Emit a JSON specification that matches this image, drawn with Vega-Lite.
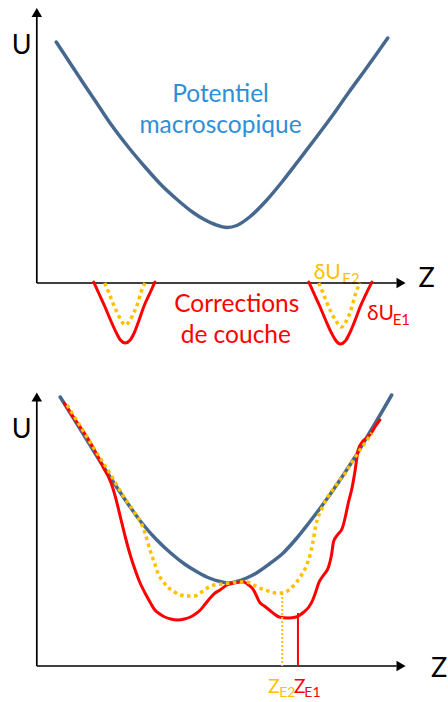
{
  "$schema": "https://vega.github.io/schema/vega-lite/v6.json",
  "width": 448,
  "height": 702,
  "autosize": {"type": "fit", "contains": "padding"},
  "padding": 0,
  "background": "white",
  "view": {"stroke": null},
  "datasets": {
    "axes": [
      {"panel": "top", "x": 37.3, "y": 283, "x2": 37.3, "y2": 15},
      {"panel": "top", "x": 37.3, "y": 283, "x2": 402, "y2": 283},
      {"panel": "bottom", "x": 37.3, "y": 666, "x2": 37.3, "y2": 400},
      {"panel": "bottom", "x": 37.3, "y": 666, "x2": 402, "y2": 666}
    ],
    "arrows": [
      {"dir": "up", "x": 37.3, "y": 12.5},
      {"dir": "right", "x": 406.5, "y": 283},
      {"dir": "up", "x": 37.3, "y": 397},
      {"dir": "right", "x": 406.5, "y": 666}
    ],
    "curves": [
      {"c": "t_macro", "k": "macro", "x": 57, "y": 42},
      {"c": "t_macro", "k": "macro", "x": 70, "y": 61.5},
      {"c": "t_macro", "k": "macro", "x": 85, "y": 84},
      {"c": "t_macro", "k": "macro", "x": 100, "y": 106},
      {"c": "t_macro", "k": "macro", "x": 113, "y": 125},
      {"c": "t_macro", "k": "macro", "x": 130, "y": 147},
      {"c": "t_macro", "k": "macro", "x": 147, "y": 167},
      {"c": "t_macro", "k": "macro", "x": 163, "y": 184.5},
      {"c": "t_macro", "k": "macro", "x": 180, "y": 200},
      {"c": "t_macro", "k": "macro", "x": 195, "y": 212},
      {"c": "t_macro", "k": "macro", "x": 207, "y": 219.5},
      {"c": "t_macro", "k": "macro", "x": 218, "y": 224.5},
      {"c": "t_macro", "k": "macro", "x": 230, "y": 227.5},
      {"c": "t_macro", "k": "macro", "x": 240, "y": 225.5},
      {"c": "t_macro", "k": "macro", "x": 253, "y": 217},
      {"c": "t_macro", "k": "macro", "x": 270, "y": 200.5},
      {"c": "t_macro", "k": "macro", "x": 287, "y": 180.5},
      {"c": "t_macro", "k": "macro", "x": 303, "y": 160},
      {"c": "t_macro", "k": "macro", "x": 320, "y": 138},
      {"c": "t_macro", "k": "macro", "x": 337, "y": 115.5},
      {"c": "t_macro", "k": "macro", "x": 353, "y": 93},
      {"c": "t_macro", "k": "macro", "x": 370, "y": 70},
      {"c": "t_macro", "k": "macro", "x": 382, "y": 53.5},
      {"c": "t_macro", "k": "macro", "x": 393, "y": 38},

      {"c": "t_E1_L", "k": "E1", "x": 95, "y": 282},
      {"c": "t_E1_L", "k": "E1", "x": 100, "y": 293},
      {"c": "t_E1_L", "k": "E1", "x": 106, "y": 306},
      {"c": "t_E1_L", "k": "E1", "x": 112, "y": 320},
      {"c": "t_E1_L", "k": "E1", "x": 118, "y": 333},
      {"c": "t_E1_L", "k": "E1", "x": 122, "y": 340},
      {"c": "t_E1_L", "k": "E1", "x": 127, "y": 343},
      {"c": "t_E1_L", "k": "E1", "x": 132, "y": 340},
      {"c": "t_E1_L", "k": "E1", "x": 136, "y": 333},
      {"c": "t_E1_L", "k": "E1", "x": 141, "y": 320},
      {"c": "t_E1_L", "k": "E1", "x": 146, "y": 306},
      {"c": "t_E1_L", "k": "E1", "x": 152, "y": 293},
      {"c": "t_E1_L", "k": "E1", "x": 157, "y": 282},

      {"c": "t_E1_R", "k": "E1", "x": 313, "y": 282},
      {"c": "t_E1_R", "k": "E1", "x": 318, "y": 293},
      {"c": "t_E1_R", "k": "E1", "x": 324, "y": 306},
      {"c": "t_E1_R", "k": "E1", "x": 330, "y": 320},
      {"c": "t_E1_R", "k": "E1", "x": 336, "y": 333},
      {"c": "t_E1_R", "k": "E1", "x": 340, "y": 340},
      {"c": "t_E1_R", "k": "E1", "x": 345, "y": 344},
      {"c": "t_E1_R", "k": "E1", "x": 350, "y": 341},
      {"c": "t_E1_R", "k": "E1", "x": 354, "y": 334},
      {"c": "t_E1_R", "k": "E1", "x": 360, "y": 320},
      {"c": "t_E1_R", "k": "E1", "x": 365, "y": 307},
      {"c": "t_E1_R", "k": "E1", "x": 371, "y": 294},
      {"c": "t_E1_R", "k": "E1", "x": 377, "y": 282},

      {"c": "t_E2_L", "k": "E2", "x": 106, "y": 283},
      {"c": "t_E2_L", "k": "E2", "x": 110, "y": 292},
      {"c": "t_E2_L", "k": "E2", "x": 114, "y": 302},
      {"c": "t_E2_L", "k": "E2", "x": 118, "y": 311},
      {"c": "t_E2_L", "k": "E2", "x": 122, "y": 319},
      {"c": "t_E2_L", "k": "E2", "x": 127, "y": 325},
      {"c": "t_E2_L", "k": "E2", "x": 132, "y": 320},
      {"c": "t_E2_L", "k": "E2", "x": 136, "y": 312},
      {"c": "t_E2_L", "k": "E2", "x": 140, "y": 302},
      {"c": "t_E2_L", "k": "E2", "x": 143, "y": 292},
      {"c": "t_E2_L", "k": "E2", "x": 147, "y": 283},

      {"c": "t_E2_R", "k": "E2", "x": 323, "y": 283},
      {"c": "t_E2_R", "k": "E2", "x": 327, "y": 292},
      {"c": "t_E2_R", "k": "E2", "x": 331, "y": 302},
      {"c": "t_E2_R", "k": "E2", "x": 335, "y": 311},
      {"c": "t_E2_R", "k": "E2", "x": 340, "y": 320},
      {"c": "t_E2_R", "k": "E2", "x": 346, "y": 327},
      {"c": "t_E2_R", "k": "E2", "x": 351, "y": 321},
      {"c": "t_E2_R", "k": "E2", "x": 355, "y": 312},
      {"c": "t_E2_R", "k": "E2", "x": 358, "y": 302},
      {"c": "t_E2_R", "k": "E2", "x": 361, "y": 292},
      {"c": "t_E2_R", "k": "E2", "x": 365, "y": 283},

      {"c": "b_macro", "k": "macro", "x": 61, "y": 397},
      {"c": "b_macro", "k": "macro", "x": 75, "y": 419},
      {"c": "b_macro", "k": "macro", "x": 90, "y": 443},
      {"c": "b_macro", "k": "macro", "x": 107, "y": 470},
      {"c": "b_macro", "k": "macro", "x": 125, "y": 497},
      {"c": "b_macro", "k": "macro", "x": 143, "y": 522},
      {"c": "b_macro", "k": "macro", "x": 158, "y": 539},
      {"c": "b_macro", "k": "macro", "x": 173, "y": 553},
      {"c": "b_macro", "k": "macro", "x": 187, "y": 564},
      {"c": "b_macro", "k": "macro", "x": 200, "y": 572},
      {"c": "b_macro", "k": "macro", "x": 212, "y": 578},
      {"c": "b_macro", "k": "macro", "x": 223, "y": 581.5},
      {"c": "b_macro", "k": "macro", "x": 232, "y": 583},
      {"c": "b_macro", "k": "macro", "x": 240, "y": 581.5},
      {"c": "b_macro", "k": "macro", "x": 250, "y": 578},
      {"c": "b_macro", "k": "macro", "x": 260, "y": 573},
      {"c": "b_macro", "k": "macro", "x": 273, "y": 564},
      {"c": "b_macro", "k": "macro", "x": 287, "y": 553},
      {"c": "b_macro", "k": "macro", "x": 300, "y": 539},
      {"c": "b_macro", "k": "macro", "x": 313, "y": 523},
      {"c": "b_macro", "k": "macro", "x": 325, "y": 507.5},
      {"c": "b_macro", "k": "macro", "x": 337, "y": 491},
      {"c": "b_macro", "k": "macro", "x": 350, "y": 472},
      {"c": "b_macro", "k": "macro", "x": 363, "y": 452},
      {"c": "b_macro", "k": "macro", "x": 375, "y": 432},
      {"c": "b_macro", "k": "macro", "x": 387, "y": 412},
      {"c": "b_macro", "k": "macro", "x": 397, "y": 395},

      {"c": "b_E1", "k": "E1", "x": 65, "y": 403},
      {"c": "b_E1", "k": "E1", "x": 75, "y": 418},
      {"c": "b_E1", "k": "E1", "x": 90, "y": 440},
      {"c": "b_E1", "k": "E1", "x": 100, "y": 458},
      {"c": "b_E1", "k": "E1", "x": 105, "y": 468},
      {"c": "b_E1", "k": "E1", "x": 110, "y": 477},
      {"c": "b_E1", "k": "E1", "x": 114, "y": 487},
      {"c": "b_E1", "k": "E1", "x": 117, "y": 497},
      {"c": "b_E1", "k": "E1", "x": 122, "y": 517},
      {"c": "b_E1", "k": "E1", "x": 127, "y": 537},
      {"c": "b_E1", "k": "E1", "x": 132, "y": 555},
      {"c": "b_E1", "k": "E1", "x": 137, "y": 570},
      {"c": "b_E1", "k": "E1", "x": 142, "y": 583},
      {"c": "b_E1", "k": "E1", "x": 147, "y": 593},
      {"c": "b_E1", "k": "E1", "x": 152, "y": 602},
      {"c": "b_E1", "k": "E1", "x": 157, "y": 610},
      {"c": "b_E1", "k": "E1", "x": 162, "y": 614},
      {"c": "b_E1", "k": "E1", "x": 167, "y": 617},
      {"c": "b_E1", "k": "E1", "x": 173, "y": 619},
      {"c": "b_E1", "k": "E1", "x": 180, "y": 620},
      {"c": "b_E1", "k": "E1", "x": 187, "y": 619},
      {"c": "b_E1", "k": "E1", "x": 193, "y": 617},
      {"c": "b_E1", "k": "E1", "x": 198, "y": 614},
      {"c": "b_E1", "k": "E1", "x": 203, "y": 610},
      {"c": "b_E1", "k": "E1", "x": 208, "y": 604},
      {"c": "b_E1", "k": "E1", "x": 213, "y": 598},
      {"c": "b_E1", "k": "E1", "x": 218, "y": 593},
      {"c": "b_E1", "k": "E1", "x": 223, "y": 590},
      {"c": "b_E1", "k": "E1", "x": 230, "y": 585},
      {"c": "b_E1", "k": "E1", "x": 237, "y": 583},
      {"c": "b_E1", "k": "E1", "x": 247, "y": 582},
      {"c": "b_E1", "k": "E1", "x": 252, "y": 585},
      {"c": "b_E1", "k": "E1", "x": 257, "y": 590},
      {"c": "b_E1", "k": "E1", "x": 260, "y": 596},
      {"c": "b_E1", "k": "E1", "x": 263, "y": 602},
      {"c": "b_E1", "k": "E1", "x": 268, "y": 606},
      {"c": "b_E1", "k": "E1", "x": 273, "y": 610},
      {"c": "b_E1", "k": "E1", "x": 278, "y": 614},
      {"c": "b_E1", "k": "E1", "x": 283, "y": 617},
      {"c": "b_E1", "k": "E1", "x": 292, "y": 618},
      {"c": "b_E1", "k": "E1", "x": 300, "y": 617},
      {"c": "b_E1", "k": "E1", "x": 308, "y": 612},
      {"c": "b_E1", "k": "E1", "x": 313, "y": 607},
      {"c": "b_E1", "k": "E1", "x": 317, "y": 600},
      {"c": "b_E1", "k": "E1", "x": 320, "y": 592},
      {"c": "b_E1", "k": "E1", "x": 323, "y": 583},
      {"c": "b_E1", "k": "E1", "x": 328, "y": 575},
      {"c": "b_E1", "k": "E1", "x": 333, "y": 567},
      {"c": "b_E1", "k": "E1", "x": 336, "y": 555},
      {"c": "b_E1", "k": "E1", "x": 338, "y": 542},
      {"c": "b_E1", "k": "E1", "x": 342, "y": 535},
      {"c": "b_E1", "k": "E1", "x": 347, "y": 528},
      {"c": "b_E1", "k": "E1", "x": 350, "y": 517},
      {"c": "b_E1", "k": "E1", "x": 353, "y": 503},
      {"c": "b_E1", "k": "E1", "x": 357, "y": 487},
      {"c": "b_E1", "k": "E1", "x": 360, "y": 470},
      {"c": "b_E1", "k": "E1", "x": 363, "y": 450},
      {"c": "b_E1", "k": "E1", "x": 368, "y": 441},
      {"c": "b_E1", "k": "E1", "x": 373, "y": 437},
      {"c": "b_E1", "k": "E1", "x": 377, "y": 432},
      {"c": "b_E1", "k": "E1", "x": 380, "y": 427},
      {"c": "b_E1", "k": "E1", "x": 385, "y": 420},

      {"c": "b_E2", "k": "E2", "x": 68, "y": 405},
      {"c": "b_E2", "k": "E2", "x": 80, "y": 424},
      {"c": "b_E2", "k": "E2", "x": 95, "y": 448},
      {"c": "b_E2", "k": "E2", "x": 110, "y": 471},
      {"c": "b_E2", "k": "E2", "x": 125, "y": 496},
      {"c": "b_E2", "k": "E2", "x": 138, "y": 515},
      {"c": "b_E2", "k": "E2", "x": 143, "y": 523},
      {"c": "b_E2", "k": "E2", "x": 147, "y": 533},
      {"c": "b_E2", "k": "E2", "x": 150, "y": 543},
      {"c": "b_E2", "k": "E2", "x": 153, "y": 553},
      {"c": "b_E2", "k": "E2", "x": 157, "y": 564},
      {"c": "b_E2", "k": "E2", "x": 160, "y": 573},
      {"c": "b_E2", "k": "E2", "x": 165, "y": 581},
      {"c": "b_E2", "k": "E2", "x": 170, "y": 587},
      {"c": "b_E2", "k": "E2", "x": 177, "y": 592},
      {"c": "b_E2", "k": "E2", "x": 183, "y": 595},
      {"c": "b_E2", "k": "E2", "x": 190, "y": 596},
      {"c": "b_E2", "k": "E2", "x": 197, "y": 596},
      {"c": "b_E2", "k": "E2", "x": 203, "y": 593},
      {"c": "b_E2", "k": "E2", "x": 207, "y": 590},
      {"c": "b_E2", "k": "E2", "x": 212, "y": 587},
      {"c": "b_E2", "k": "E2", "x": 217, "y": 585},
      {"c": "b_E2", "k": "E2", "x": 225, "y": 584},
      {"c": "b_E2", "k": "E2", "x": 233, "y": 583},
      {"c": "b_E2", "k": "E2", "x": 242, "y": 582},
      {"c": "b_E2", "k": "E2", "x": 250, "y": 582},
      {"c": "b_E2", "k": "E2", "x": 257, "y": 585},
      {"c": "b_E2", "k": "E2", "x": 263, "y": 588},
      {"c": "b_E2", "k": "E2", "x": 272, "y": 591},
      {"c": "b_E2", "k": "E2", "x": 280, "y": 593},
      {"c": "b_E2", "k": "E2", "x": 287, "y": 593},
      {"c": "b_E2", "k": "E2", "x": 294, "y": 589},
      {"c": "b_E2", "k": "E2", "x": 300, "y": 583},
      {"c": "b_E2", "k": "E2", "x": 305, "y": 576},
      {"c": "b_E2", "k": "E2", "x": 310, "y": 567},
      {"c": "b_E2", "k": "E2", "x": 314, "y": 556},
      {"c": "b_E2", "k": "E2", "x": 317, "y": 543},
      {"c": "b_E2", "k": "E2", "x": 320, "y": 526},
      {"c": "b_E2", "k": "E2", "x": 327, "y": 507},
      {"c": "b_E2", "k": "E2", "x": 337, "y": 490},
      {"c": "b_E2", "k": "E2", "x": 343, "y": 482},
      {"c": "b_E2", "k": "E2", "x": 350, "y": 473},
      {"c": "b_E2", "k": "E2", "x": 355, "y": 465},
      {"c": "b_E2", "k": "E2", "x": 360, "y": 457},
      {"c": "b_E2", "k": "E2", "x": 367, "y": 447},
      {"c": "b_E2", "k": "E2", "x": 372, "y": 440},
      {"c": "b_E2", "k": "E2", "x": 377, "y": 433}
    ],
    "drops": [
      {"k": "E2", "x": 286, "y": 593, "y2": 666},
      {"k": "E1", "x": 302, "y": 613, "y2": 666}
    ],
    "labels": [
      {"g": "axis", "t": "U", "x": 22, "y": 54},
      {"g": "axis", "t": "Z", "x": 432.5, "y": 287},
      {"g": "axis", "t": "U", "x": 22, "y": 438},
      {"g": "axis", "t": "Z", "x": 445, "y": 677},
      {"g": "macro", "t": "Potentiel", "x": 223.5, "y": 102},
      {"g": "macro", "t": "macroscopique", "x": 223.5, "y": 133},
      {"g": "corr", "t": "Corrections", "x": 240, "y": 312},
      {"g": "corr", "t": "de couche", "x": 239, "y": 343},
      {"g": "sym", "k": "E2", "t": "δU", "x": 318, "y": 279},
      {"g": "sub", "k": "E2", "t": "E2", "x": 347, "y": 284},
      {"g": "sym", "k": "E1", "t": "δU", "x": 372, "y": 320},
      {"g": "sub", "k": "E1", "t": "E1", "x": 398, "y": 325},
      {"g": "zsym", "k": "E2", "t": "Z", "x": 272, "y": 693},
      {"g": "zsub", "k": "E2", "t": "E2", "x": 283, "y": 697},
      {"g": "zsym", "k": "E1", "t": "Z", "x": 298, "y": 693},
      {"g": "zsub", "k": "E1", "t": "E1", "x": 308.5, "y": 697}
    ]
  },
  "encoding": {
    "x": {"field": "x", "type": "quantitative", "scale": {"domain": [0, 448], "nice": false, "zero": false}, "axis": null},
    "y": {"field": "y", "type": "quantitative", "scale": {"domain": [0, 702], "reverse": true, "nice": false, "zero": false}, "axis": null}
  },
  "layer": [
    {
      "data": {"name": "labels"},
      "transform": [{"filter": "datum.g == 'axis'"}],
      "mark": {"type": "text", "font": "Lato, Open Sans, sans-serif", "fontSize": 27, "color": "#000000", "align": "center", "baseline": "alphabetic"},
      "encoding": {"text": {"field": "t"}}
    },
    {
      "data": {"name": "labels"},
      "transform": [{"filter": "datum.g == 'macro'"}],
      "mark": {"type": "text", "font": "Lato, Open Sans, sans-serif", "fontSize": 24.5, "color": "#2e8fd6", "align": "center", "baseline": "alphabetic"},
      "encoding": {"text": {"field": "t"}}
    },
    {
      "data": {"name": "labels"},
      "transform": [{"filter": "datum.g == 'corr'"}],
      "mark": {"type": "text", "font": "Lato, Open Sans, sans-serif", "fontSize": 24.5, "color": "#ff0000", "align": "center", "baseline": "alphabetic"},
      "encoding": {"text": {"field": "t"}}
    },
    {
      "data": {"name": "labels"},
      "transform": [{"filter": "datum.g == 'sym'"}],
      "mark": {"type": "text", "font": "Lato, Open Sans, sans-serif", "fontSize": 21, "align": "left", "baseline": "alphabetic"},
      "encoding": {
        "text": {"field": "t"},
        "color": {"field": "k", "type": "nominal", "scale": {"domain": ["E1", "E2"], "range": ["#ff0000", "#ffc000"]}, "legend": null}
      }
    },
    {
      "data": {"name": "labels"},
      "transform": [{"filter": "datum.g == 'sub'"}],
      "mark": {"type": "text", "font": "Lato, Open Sans, sans-serif", "fontSize": 15, "align": "left", "baseline": "alphabetic"},
      "encoding": {
        "text": {"field": "t"},
        "color": {"field": "k", "type": "nominal", "scale": {"domain": ["E1", "E2"], "range": ["#ff0000", "#ffc000"]}, "legend": null}
      }
    },
    {
      "data": {"name": "labels"},
      "transform": [{"filter": "datum.g == 'zsym'"}],
      "mark": {"type": "text", "font": "Lato, Open Sans, sans-serif", "fontSize": 19, "align": "left", "baseline": "alphabetic"},
      "encoding": {
        "text": {"field": "t"},
        "color": {"field": "k", "type": "nominal", "scale": {"domain": ["E1", "E2"], "range": ["#ff0000", "#ffc000"]}, "legend": null}
      }
    },
    {
      "data": {"name": "labels"},
      "transform": [{"filter": "datum.g == 'zsub'"}],
      "mark": {"type": "text", "font": "Lato, Open Sans, sans-serif", "fontSize": 14, "align": "left", "baseline": "alphabetic"},
      "encoding": {
        "text": {"field": "t"},
        "color": {"field": "k", "type": "nominal", "scale": {"domain": ["E1", "E2"], "range": ["#ff0000", "#ffc000"]}, "legend": null}
      }
    },
    {
      "data": {"name": "axes"},
      "mark": {"type": "rule", "color": "#000000", "strokeWidth": 1.7},
      "encoding": {"x2": {"field": "x2"}, "y2": {"field": "y2"}}
    },
    {
      "data": {"name": "arrows"},
      "transform": [{"filter": "datum.dir == 'up'"}],
      "mark": {"type": "point", "shape": "triangle-up", "filled": true, "color": "#000000", "opacity": 1, "size": 110},
      "encoding": {}
    },
    {
      "data": {"name": "arrows"},
      "transform": [{"filter": "datum.dir == 'right'"}],
      "mark": {"type": "point", "shape": "triangle-right", "filled": true, "color": "#000000", "opacity": 1, "size": 110},
      "encoding": {}
    },
    {
      "data": {"name": "curves"},
      "transform": [{"filter": "datum.k == 'macro'"}],
      "mark": {"type": "line", "color": "#46688f", "strokeWidth": 3.5, "interpolate": "monotone", "strokeCap": "round"},
      "encoding": {"detail": {"field": "c"}}
    },
    {
      "data": {"name": "curves"},
      "transform": [{"filter": "datum.k == 'E1'"}],
      "mark": {"type": "line", "color": "#ff0000", "strokeWidth": 3, "interpolate": "monotone", "strokeCap": "round"},
      "encoding": {"detail": {"field": "c"}}
    },
    {
      "data": {"name": "curves"},
      "transform": [{"filter": "datum.k == 'E2'"}],
      "mark": {"type": "line", "color": "#ffc000", "strokeWidth": 3.5, "interpolate": "monotone", "strokeDash": [3.5, 3.5]},
      "encoding": {"detail": {"field": "c"}}
    },
    {
      "data": {"name": "drops"},
      "transform": [{"filter": "datum.k == 'E2'"}],
      "mark": {"type": "rule", "color": "#ffc000", "strokeWidth": 2, "strokeDash": [2, 2]},
      "encoding": {"y2": {"field": "y2"}}
    },
    {
      "data": {"name": "drops"},
      "transform": [{"filter": "datum.k == 'E1'"}],
      "mark": {"type": "rule", "color": "#ff0000", "strokeWidth": 2},
      "encoding": {"y2": {"field": "y2"}}
    }
  ]
}
